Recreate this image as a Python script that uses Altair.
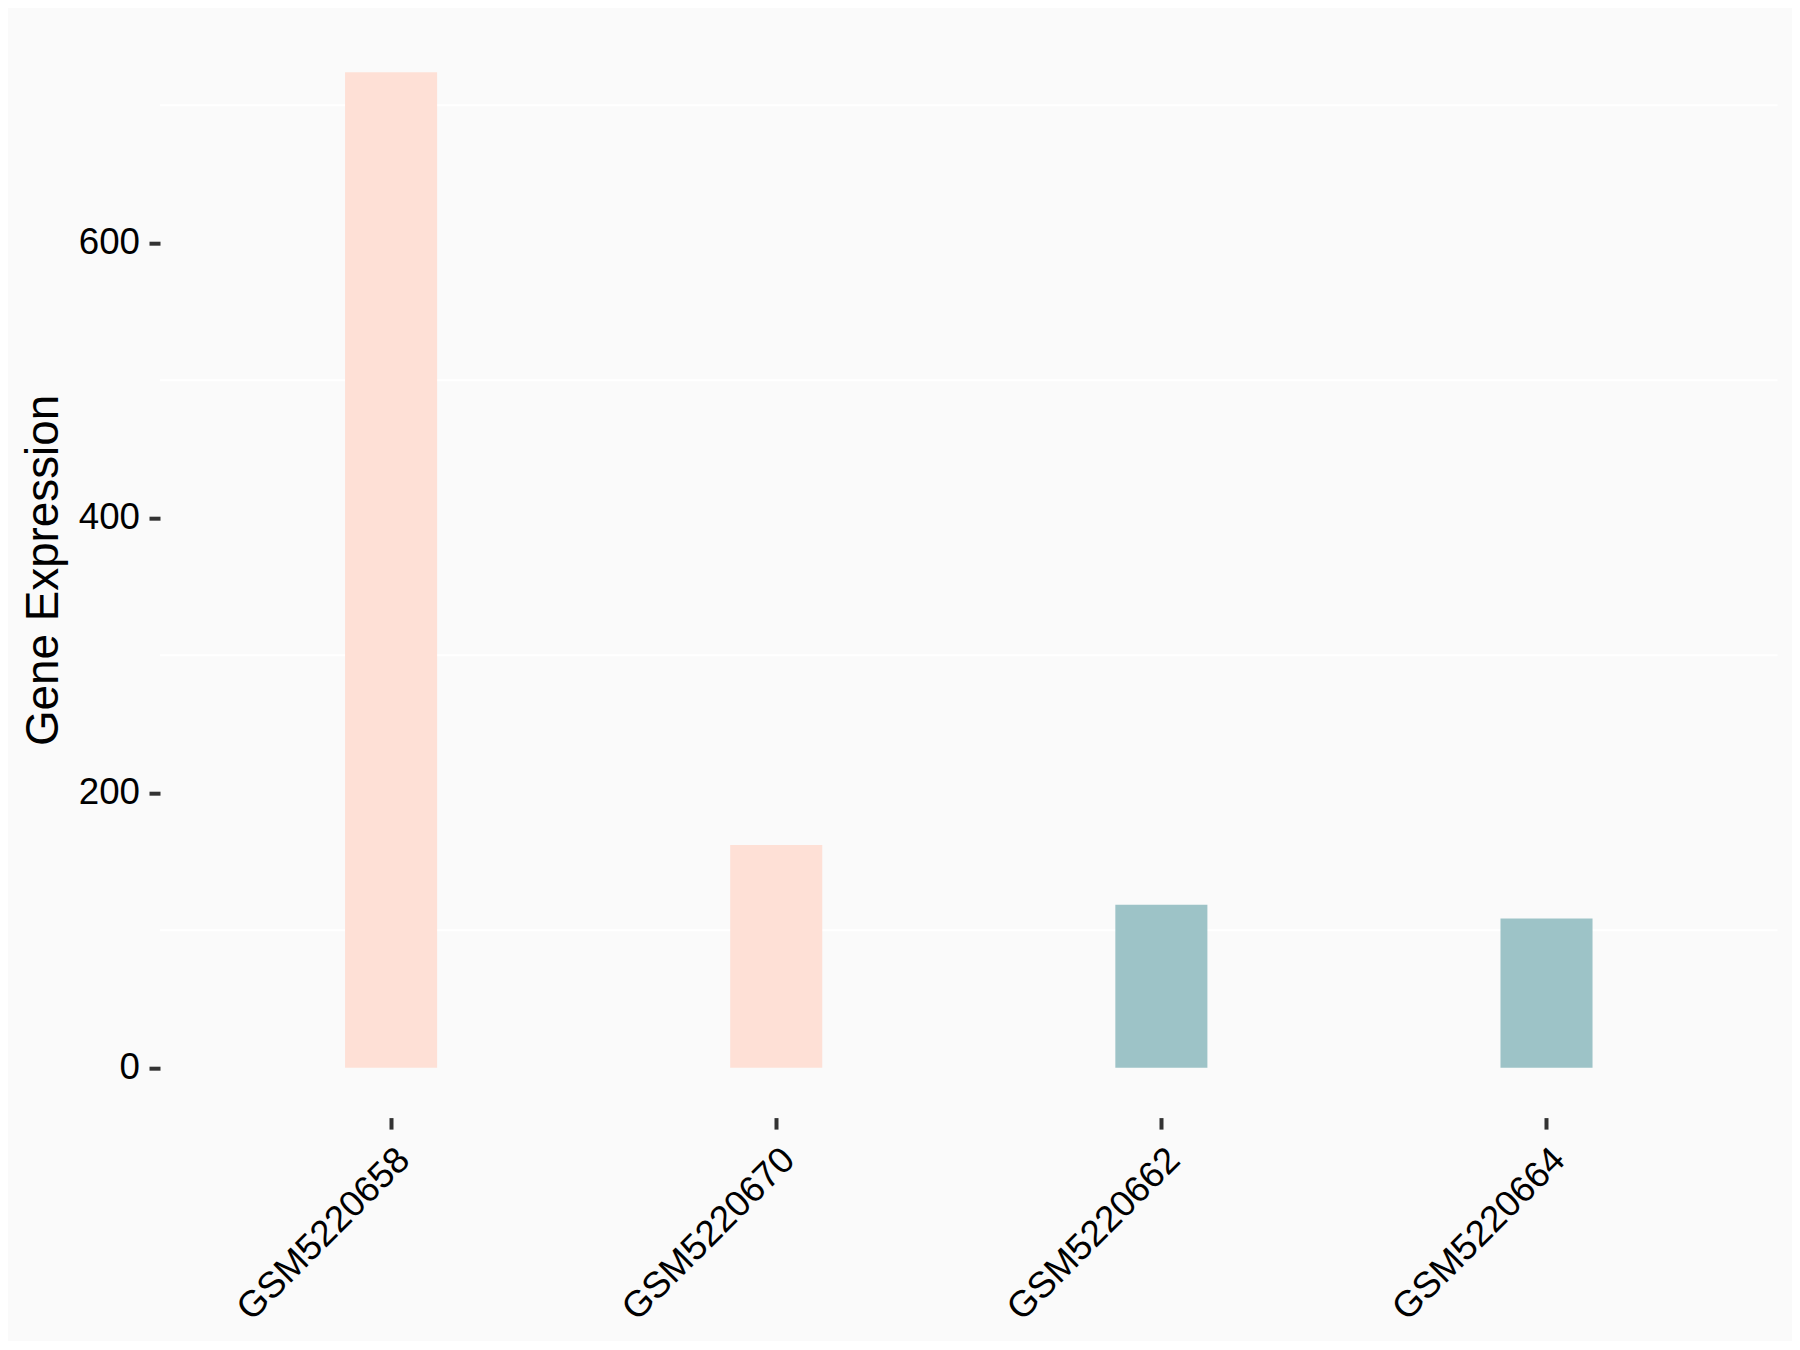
import altair as alt
import pandas as pd

samples = ["GSM5220658", "GSM5220670", "GSM5220662", "GSM5220664"]
values = [724.0, 162.0, 118.5, 108.5]
groups = ["A", "A", "B", "B"]
grid_values = [100, 300, 500, 700]
tick_values = [0, 200, 400, 600]

df = pd.DataFrame({"sample": samples, "value": values, "group": groups})
grid_df = pd.DataFrame({"g": grid_values})

W = 1617.6
H = 1095.4
ymin, ymax = -36.2, 760.4
FONT = "Liberation Sans"

yscale = alt.Scale(domain=[ymin, ymax], nice=False, zero=False)
yaxis = alt.Axis(
    title="Gene Expression",
    values=tick_values,
    labelFont=FONT,
    labelFontSize=36.7,
    labelColor="#000000",
    labelPadding=9.5,
    tickSize=11,
    tickWidth=4,
    tickColor="#333333",
    domain=False,
    grid=False,
    titleFont=FONT,
    titleFontSize=45.8,
    titleFontWeight="normal",
    titleColor="#000000",
    titleAngle=270,
    titleBaseline="bottom",
    titleAlign="center",
    titleX=-93,
    titleY=H / 2,
)

grid = alt.Chart(grid_df).mark_rule(color="#FFFFFF", strokeWidth=2).encode(
    y=alt.Y("g:Q", scale=yscale, axis=yaxis, title="Gene Expression")
)

bars = alt.Chart(df).mark_bar().encode(
    x=alt.X(
        "sample:N",
        sort=samples,
        scale=alt.Scale(paddingInner=0.761, paddingOuter=0.4805),
        axis=alt.Axis(
            title=None,
            labelAngle=315,
            labelAlign="right",
            labelBaseline="top",
            labelFont=FONT,
            labelFontSize=36.7,
            labelColor="#000000",
            labelPadding=12,
            labelLimit=0,
            tickSize=11.5,
            tickWidth=4,
            tickColor="#333333",
            domain=False,
            grid=False,
        ),
    ),
    y=alt.Y("value:Q", scale=yscale, axis=yaxis, title="Gene Expression"),
    y2=alt.datum(0),
    color=alt.Color(
        "group:N",
        scale=alt.Scale(domain=["A", "B"], range=["#FEE0D6", "#9DC3C7"]),
        legend=None,
    ),
)

chart = (
    alt.layer(grid, bars)
    .properties(
        width=W,
        height=H,
        autosize=alt.AutoSizeParams(type="none"),
        padding={"left": 152, "top": 14.2, "right": 14, "bottom": 223},
        background="#FAFAFA",
    )
    .configure_view(stroke=None, fill="#FAFAFA")
)

chart.save("out.html", embed_options={"renderer": "svg", "actions": False})
